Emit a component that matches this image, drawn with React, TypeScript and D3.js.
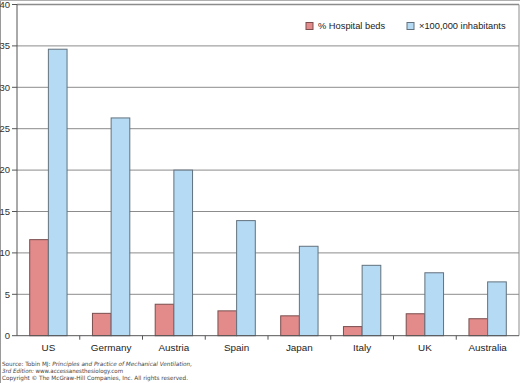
import React from "react";
import * as d3 from "d3";

const categories = ["US", "Germany", "Austria", "Spain", "Japan", "Italy", "UK", "Australia"];
const hospitalBeds = [11.6, 2.7, 3.8, 3.0, 2.4, 1.1, 2.65, 2.05];
const inhabitants = [34.6, 26.3, 20.0, 13.9, 10.8, 8.5, 7.6, 6.5];
const yTicks = [0, 5, 10, 15, 20, 25, 30, 35, 40];
const seriesNames = ["% Hospital beds", "\u00d7100,000 inhabitants"];

const W = 520, H = 383;
const left = 17, right = 519, top = 4.5, bottom = 335.7;
const FONT = "Liberation Sans, Arial, sans-serif";
const colors = ["#E38A8A", "#B5DBF4"];
const strokes = ["#7a4e4e", "#62717d"];

export default function App() {
  const x = d3.scaleBand<string>().domain(categories).range([left, right]).padding(0);
  const sub = d3.scaleBand<string>().domain(["a", "b"]).range([0, x.bandwidth()]).paddingInner(0).paddingOuter(0.68);
  const y = d3.scaleLinear().domain([0, 40]).range([bottom, top]);
  const series = [hospitalBeds, inhabitants];
  const keys = ["a", "b"];
  return (
    <svg width={W} height={H} style={{ position: "absolute", left: 0, top: 0, background: "#fff" }}>
      <rect x={0} y={0} width={W} height={H} fill="#fff" />
      <line x1={0.5} y1={0} x2={0.5} y2={H} stroke="#9a9a9a" />
      <line x1={0} y1={0.5} x2={W} y2={0.5} stroke="#b0b0b0" />
      {yTicks.filter(t => t > 0).map(t => (
        <line key={t} x1={left} x2={right} y1={y(t)} y2={y(t)} stroke="#8c8c8c" strokeWidth={t === 40 ? 1.5 : 1} />
      ))}
      <line x1={right} x2={right} y1={top} y2={bottom} stroke="#8c8c8c" />
      {categories.map((c, i) =>
        series.map((s, k) => (
          <rect key={c + k} x={(x(c) as number) + (sub(keys[k]) as number)} width={sub.bandwidth()}
            y={y(s[i])} height={bottom - y(s[i])} fill={colors[k]} stroke={strokes[k]} strokeWidth={1} />
        ))
      )}
      <line x1={left} x2={left} y1={top} y2={bottom} stroke="#555" />
      <line x1={left} x2={right} y1={bottom} y2={bottom} stroke="#555" />
      {yTicks.map(t => (
        <g key={t}>
          <line x1={12} x2={left} y1={y(t)} y2={y(t)} stroke="#555" />
          <text x={10} y={y(t)} dy="0.35em" textAnchor="end" fontFamily={FONT} fontSize={9.5} fill="#333">{t}</text>
        </g>
      ))}
      {categories.map((c, i) => (
        <g key={c}>
          {i > 0 && <line x1={x(c)} x2={x(c)} y1={bottom} y2={bottom + 4} stroke="#555" />}
          <text x={(x(c) as number) + x.bandwidth() / 2} y={bottom + 15} textAnchor="middle" fontFamily={FONT} fontSize={9.9} fill="#222">{c}</text>
        </g>
      ))}
      {seriesNames.map((n, k) => {
        const lx = k === 0 ? 306 : 407;
        return (
          <g key={n}>
            <rect x={lx} y={22.5} width={7} height={7} fill={colors[k]} stroke={strokes[k]} />
            <text x={lx + 12} y={26} dy="0.35em" fontFamily={FONT} fontSize={9.3} fill="#222">{n}</text>
          </g>
        );
      })}
      <g fontFamily="DejaVu Sans, Verdana, sans-serif" fontSize={5.8} fill="#444">
        <text x={2} y={366} textLength={190} lengthAdjust="spacingAndGlyphs">Source: Tobin MJ: <tspan fontStyle="italic">Principles and Practice of Mechanical Ventilation,</tspan></text>
        <text x={2} y={372.5} textLength={121} lengthAdjust="spacingAndGlyphs"><tspan fontStyle="italic">3rd Edition:</tspan> www.accessanesthesiology.com</text>
        <text x={2} y={380} textLength={186} lengthAdjust="spacingAndGlyphs">Copyright © The McGraw-Hill Companies, Inc. All rights reserved.</text>
      </g>
    </svg>
  );
}
